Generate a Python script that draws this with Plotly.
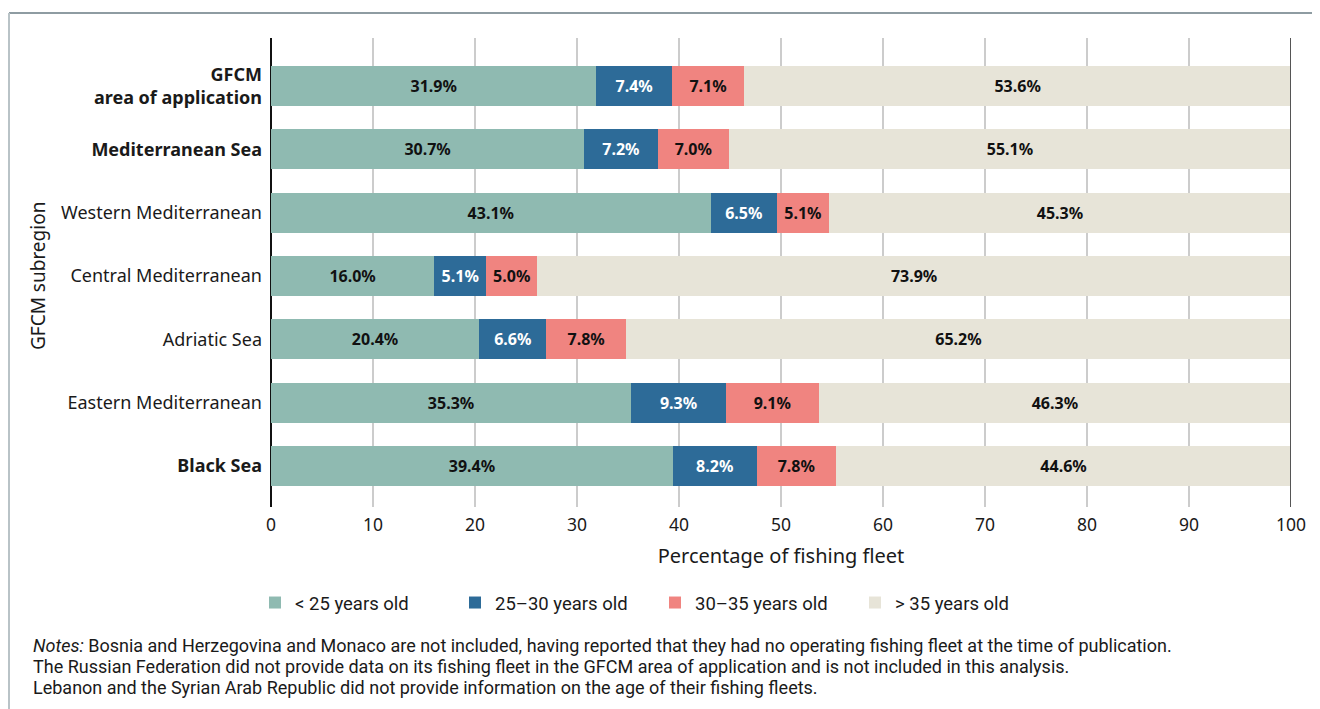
import plotly.graph_objects as go

categories = ["GFCM<br>area of application", "Mediterranean Sea", "Western Mediterranean",
              "Central Mediterranean", "Adriatic Sea", "Eastern Mediterranean", "Black Sea"]
bold_cats = {"GFCM<br>area of application", "Mediterranean Sea", "Black Sea"}
series_names = ["< 25 years old", "25–30 years old", "30–35 years old", "> 35 years old"]
under25 = [31.9, 30.7, 43.1, 16.0, 20.4, 35.3, 39.4]
y25_30 = [7.4, 7.2, 6.5, 5.1, 6.6, 9.3, 8.2]
y30_35 = [7.1, 7.0, 5.1, 5.0, 7.8, 9.1, 7.8]
over35 = [53.6, 55.1, 45.3, 73.9, 65.2, 46.3, 44.6]
colors = ["#8fbab1", "#2d6b98", "#f08480", "#e7e4d8"]
text_colors = ["#111111", "#ffffff", "#111111", "#111111"]
xticks = [0, 10, 20, 30, 40, 50, 60, 70, 80, 90, 100]
notes = [
    "<i>Notes:</i> Bosnia and Herzegovina and Monaco are not included, having reported that they had no operating fishing fleet at the time of publication.",
    "The Russian Federation did not provide data on its fishing fleet in the GFCM area of application and is not included in this analysis.",
    "Lebanon and the Syrian Arab Republic did not provide information on the age of their fishing fleets.",
]

FONT = "Noto Sans, Open Sans, sans-serif"
COND = "Roboto, sans-serif"

# page body has an 8px margin; work in page pixels and convert
OFF = 8
W, H = 1320 - OFF, 709 - OFF
PL, PR, PT, PB = 271, 1291, 38, 507  # plot area in page pixels
L, T = PL - OFF, PT - OFF
R = W - (PR - OFF)
B = H - (PB - OFF)
pw, ph = PR - PL, PB - PT

def px_x(x):
    return (x - PL) / pw

def px_y(y):
    return (PB - y) / ph

fig = go.Figure()
for name, vals, c, tc in zip(series_names, [under25, y25_30, y30_35, over35], colors, text_colors):
    fig.add_trace(go.Bar(
        y=categories, x=vals, name=name, orientation="h",
        marker=dict(color=c, line=dict(width=0)),
        width=0.63,
        texttemplate="<b>%{x:.1f}%</b>", textposition="inside",
        insidetextanchor="middle", textangle=0, constraintext="none",
        textfont=dict(family=FONT, size=16, color=tc),
        hoverinfo="skip",
    ))

ticktext = [f"<b>{c}</b>" if c in bold_cats else c for c in categories]

fig.update_layout(
    width=W, height=H, barmode="stack",
    margin=dict(l=L, r=R, t=T, b=B, autoexpand=False),
    paper_bgcolor="white", plot_bgcolor="white",
    font=dict(family=FONT, color="#1a1a1a"),
    showlegend=True,
    legend=dict(orientation="h", x=px_x(255), xanchor="left", y=px_y(603), yanchor="middle",
                entrywidth=155, entrywidthmode="pixels", traceorder="normal",
                font=dict(family=COND, size=18.5, color="#1a1a1a"),
                itemwidth=30),
    xaxis=dict(range=[0, 100], tickvals=xticks, showgrid=True, gridcolor="#cccccc", gridwidth=1.5,
               zeroline=True, zerolinecolor="#111111", zerolinewidth=1.5, showline=False,
               tickfont=dict(size=17.5, family=FONT), ticks="", ticklabelstandoff=5,
               title=dict(text="Percentage of fishing fleet", font=dict(size=20, family=FONT), standoff=14),
               fixedrange=True),
    yaxis=dict(categoryorder="array", categoryarray=categories, range=[6.647, -0.758],
               tickvals=categories, ticktext=ticktext, showgrid=False, ticks="",
               tickfont=dict(size=18, family=FONT), ticklabelstandoff=8, showline=False),
)

fig.add_shape(type="line", xref="x", yref="paper", x0=100, x1=100, y0=0, y1=1,
              line=dict(color="#555555", width=2))
fig.add_shape(type="line", xref="paper", yref="paper", x0=px_x(9), x1=px_x(1330),
              y0=px_y(13), y1=px_y(13), line=dict(color="#8e9ca2", width=2))
fig.add_shape(type="line", xref="paper", yref="paper", x0=px_x(9), x1=px_x(9),
              y0=px_y(13), y1=px_y(720), line=dict(color="#b9c3c7", width=2))

fig.add_annotation(text="GFCM subregion", xref="paper", yref="paper", x=px_x(38), y=px_y(276),
                   textangle=-90, showarrow=False, xanchor="center", yanchor="middle",
                   font=dict(size=19, family=FONT, color="#1a1a1a"))

for i, line in enumerate(notes):
    fig.add_annotation(text=line, xref="paper", yref="paper", x=px_x(31), y=px_y(645 + 21 * i),
                       xanchor="left", yanchor="middle", showarrow=False, align="left",
                       font=dict(size=18, family=COND, color="#1a1a1a"))

fig.write_html("out.html")
